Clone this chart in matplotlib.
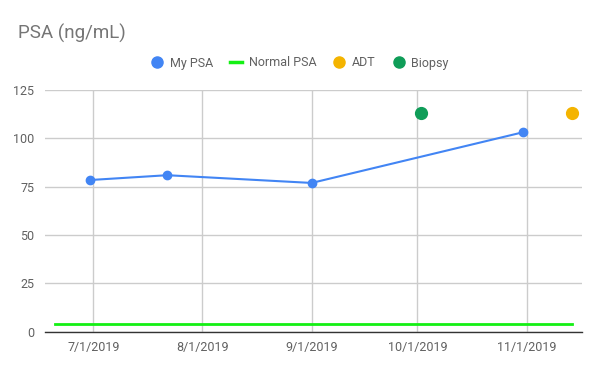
import numpy as np
import pandas as pd
import matplotlib
matplotlib.use('Agg')
import matplotlib.pyplot as plt
import matplotlib.dates as mdates
from matplotlib.lines import Line2D

plt.rcParams['font.family'] = ['Roboto', 'DejaVu Sans']

# data
psa_dates = pd.to_datetime(['2019-06-30', '2019-07-22', '2019-09-01', '2019-10-31'])
psa_values = [78.4, 80.9, 76.9, 103.1]

normal_dates = pd.to_datetime(['2019-06-20', '2019-11-14'])
normal_values = [4, 4]

adt_dates = pd.to_datetime(['2019-11-14'])
adt_values = [113.3]

biopsy_dates = pd.to_datetime(['2019-10-02'])
biopsy_values = [113.3]

tick_dates = pd.to_datetime(['2019-07-01', '2019-08-01', '2019-09-01', '2019-10-01', '2019-11-01'])
y_ticks = [0, 25, 50, 75, 100, 125]

blue = '#4285F4'
green_line = '#14F014'
orange = '#F4B400'
dark_green = '#0F9D58'
grid_c = '#CCCCCC'
text_c = '#616161'

fig = plt.figure(figsize=(6, 3.71), dpi=100)
ax = fig.add_axes([0.0755, 0.1059, 0.894, 0.6518])

ax.plot(normal_dates, normal_values, color=green_line, linewidth=2.0, zorder=3)
ax.plot(psa_dates, psa_values, color=blue, linewidth=1.5, marker='o', markersize=6, zorder=4)
ax.plot(adt_dates, adt_values, linestyle='none', marker='o', markersize=8.5, color=orange, zorder=4)
ax.plot(biopsy_dates, biopsy_values, linestyle='none', marker='o', markersize=8.5, color=dark_green, zorder=4)

ax.set_xlim(pd.Timestamp('2019-06-17 09:00'), pd.Timestamp('2019-11-16 16:00'))
ax.set_ylim(0, 125)
ax.set_xticks(tick_dates)
ax.xaxis.set_major_formatter(mdates.DateFormatter('%-m/%-d/%Y'))
ax.set_yticks(y_ticks)

ax.grid(True, color=grid_c, linewidth=1.0)
ax.set_axisbelow(True)
for s in ['top', 'right', 'left']:
    ax.spines[s].set_visible(False)
ax.spines['bottom'].set_color('#333333')
ax.spines['bottom'].set_linewidth(1.0)
ax.spines['bottom'].set_zorder(2)
ax.tick_params(length=0, labelsize=9, labelcolor=text_c)
ax.tick_params(axis='y', pad=8)
ax.tick_params(axis='x', pad=7)

fig.text(18 / 600, 1 - 33 / 371, 'PSA (ng/mL)', fontsize=13.5, color='#757575', va='center', ha='left')

handles = [
    Line2D([], [], linestyle='none', marker='o', markersize=8, color=blue),
    Line2D([], [], color=green_line, linewidth=2.5),
    Line2D([], [], linestyle='none', marker='o', markersize=8, color=orange),
    Line2D([], [], linestyle='none', marker='o', markersize=8, color=dark_green),
]
labels = ['My PSA', 'Normal PSA', 'ADT', 'Biopsy']
fig.legend(handles, labels, loc='center', bbox_to_anchor=(300 / 600, 1 - 63 / 371), ncol=4,
           frameon=False, fontsize=9, labelcolor=text_c, handlelength=0.9,
           handletextpad=0.55, columnspacing=1.4)

plt.savefig('out.png', dpi=100)
